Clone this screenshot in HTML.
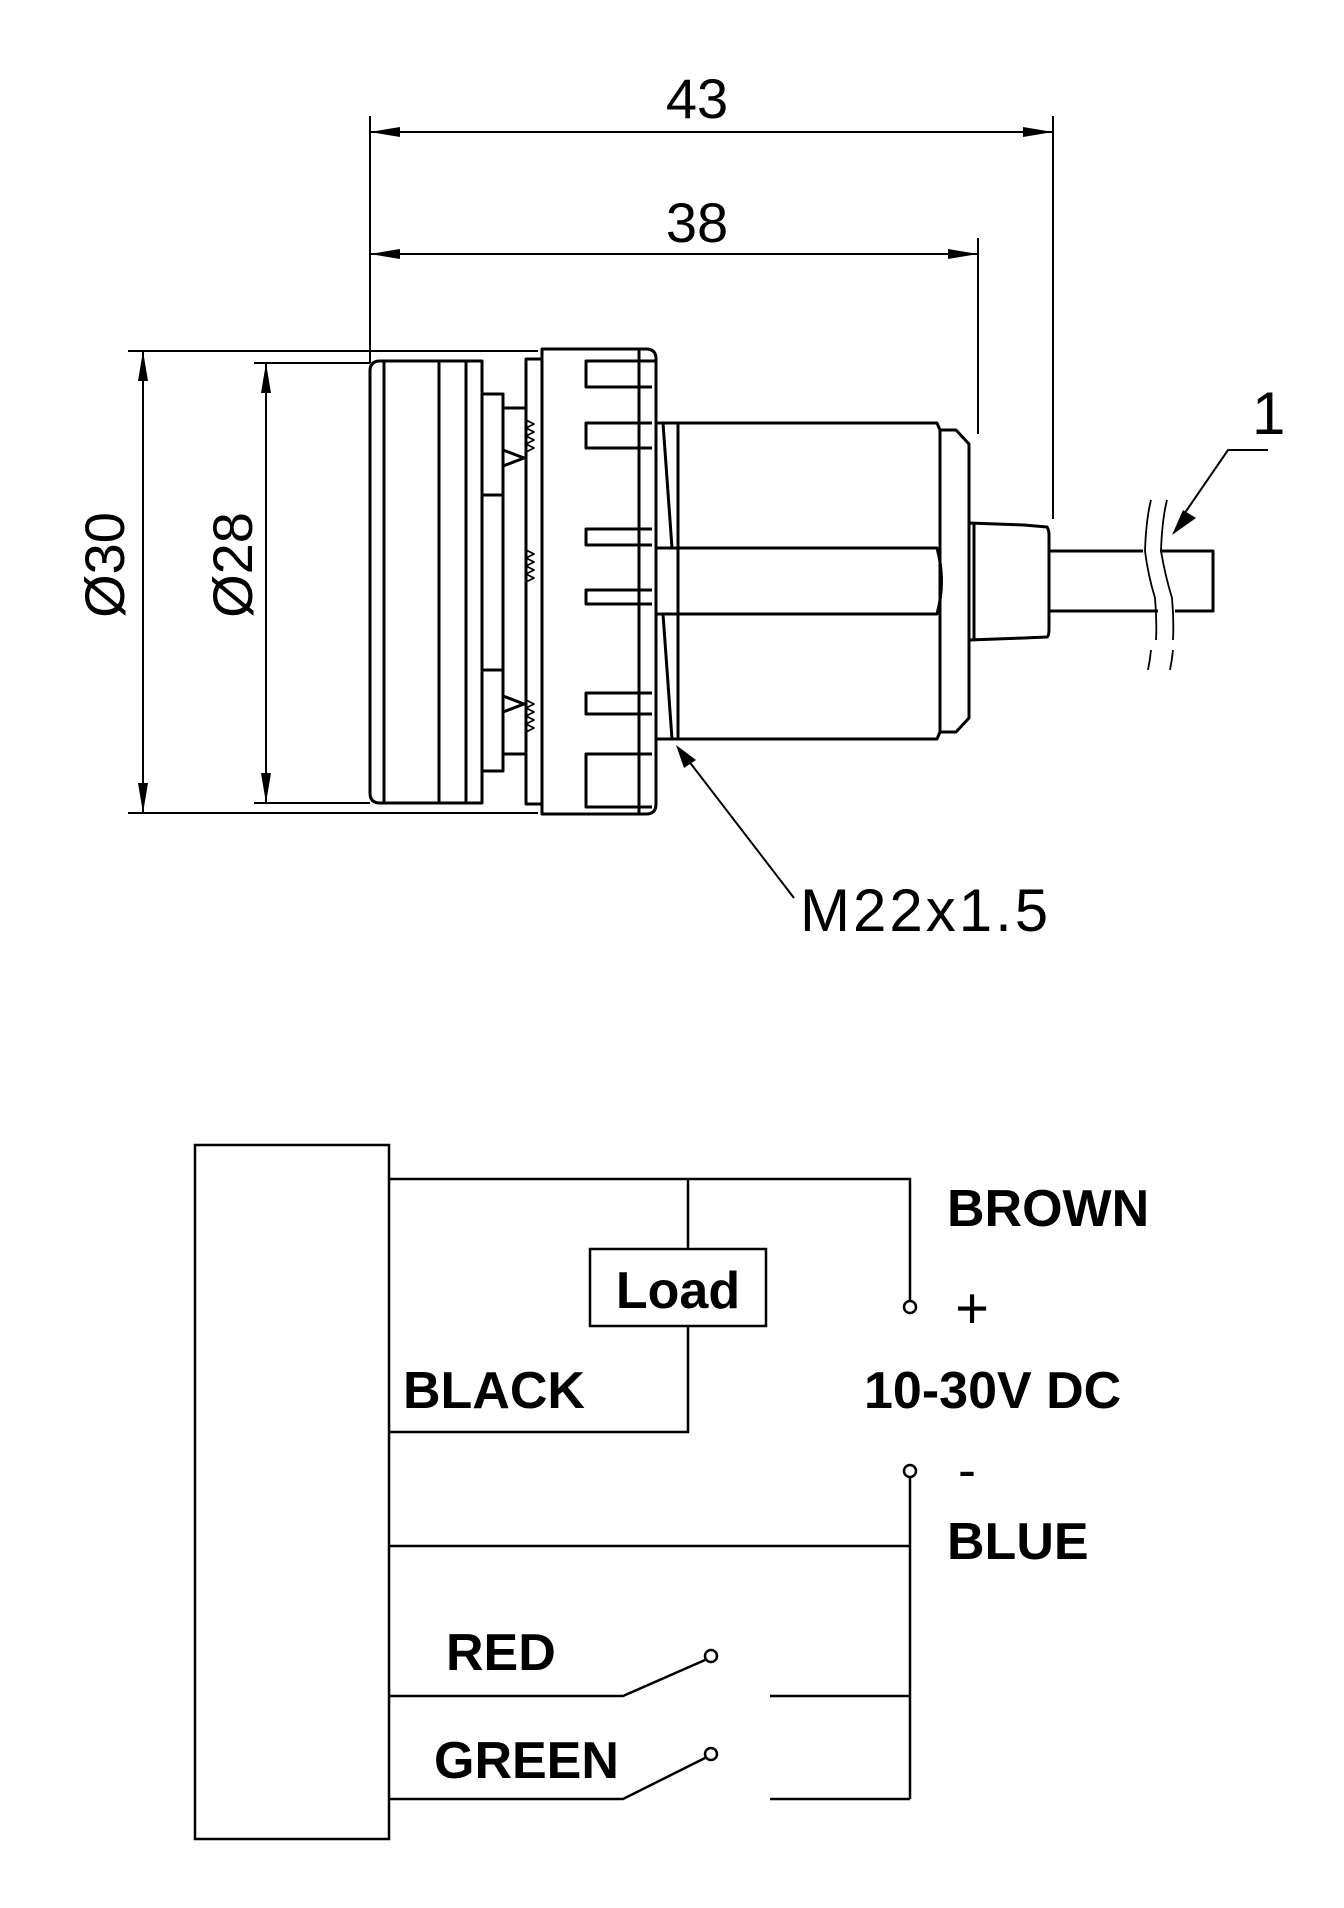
<!DOCTYPE html>
<html><head><meta charset="utf-8"><style>
html,body{margin:0;padding:0;background:#fff}
svg{display:block}
.t{font-family:"Liberation Sans",sans-serif;fill:#000}
.b{font-family:"Liberation Sans",sans-serif;font-weight:bold;fill:#000;font-size:52px}
</style></head><body>
<svg width="1344" height="1908" viewBox="0 0 1344 1908" xmlns="http://www.w3.org/2000/svg">
<g fill="none" stroke="#000" stroke-width="2">
<line x1="370" y1="116" x2="370" y2="363"/>
<line x1="1053" y1="116" x2="1053" y2="519"/>
<line x1="370" y1="132" x2="1053" y2="132"/>
<line x1="978" y1="238" x2="978" y2="434"/>
<line x1="370" y1="254" x2="978" y2="254"/>
<line x1="128" y1="351" x2="538" y2="351"/>
<line x1="128" y1="813" x2="538" y2="813"/>
<line x1="143" y1="351" x2="143" y2="813"/>
<line x1="254" y1="363" x2="370" y2="363"/>
<line x1="254" y1="803" x2="370" y2="803"/>
<line x1="266" y1="363" x2="266" y2="803"/>
<polyline points="1268,450 1228,450 1180,520"/>
<line x1="688" y1="760" x2="794" y2="898"/>
</g>
<g fill="#000">
<polygon points="370,132 400,127 400,137"/>
<polygon points="1053,132 1023,127 1023,137"/>
<polygon points="370,254 400,249 400,259"/>
<polygon points="978,254 948,249 948,259"/>
<polygon points="143,351 138,381 148,381"/>
<polygon points="143,813 138,783 148,783"/>
<polygon points="266,363 261,393 271,393"/>
<polygon points="266,803 261,773 271,773"/>
<polygon points="1172,535 1183,510 1196,518"/>
<polygon points="676,745 684,768 696,760"/>
</g>
<text class="t" x="697" y="118" font-size="56" text-anchor="middle">43</text>
<text class="t" x="697" y="242" font-size="56" text-anchor="middle">38</text>
<text class="t" font-size="56" text-anchor="middle" transform="translate(124,565) rotate(-90)">Ø30</text>
<text class="t" font-size="56" text-anchor="middle" transform="translate(252,565) rotate(-90)">Ø28</text>
<text class="t" x="1252" y="434" font-size="60">1</text>
<text class="t" x="800" y="931" font-size="60" letter-spacing="3">M22x1.5</text>

<g fill="none" stroke="#000" stroke-width="3" stroke-linejoin="round">
<path d="M380,361 H482 V803 H380 Q370,803 370,793 V371 Q370,361 380,361 Z"/>
<line x1="384" y1="361" x2="384" y2="803"/>
<line x1="439" y1="361" x2="439" y2="803"/>
<line x1="466" y1="361" x2="466" y2="803"/>
<rect x="482" y="394" width="21" height="377"/>
<line x1="482" y1="495" x2="503" y2="495"/>
<line x1="482" y1="670" x2="503" y2="670"/>
<rect x="503" y="408" width="23" height="346"/>
<polyline points="503,450 524,458 503,466"/>
<polyline points="503,696 524,704 503,712"/>
<rect x="526" y="359" width="16" height="445"/>
<path d="M526,420 l8,4 -8,4 8,4 -8,4 8,4 -8,4 8,4 -8,4 M526,550 l8,4 -8,4 8,4 -8,4 8,4 -8,4 8,4 -8,4 M526,700 l8,4 -8,4 8,4 -8,4 8,4 -8,4 8,4 -8,4" stroke-width="1.8"/>
<path d="M542,349 H646 Q656,349 656,359 V804 Q656,814 646,814 H542 Z"/>
<line x1="639" y1="349" x2="639" y2="814"/>
<path d="M656,361 L586,361 V387 H652"/>
<path d="M652,423 H586 V448 L652,448"/>
<path d="M652,529 H586 V545 L652,545"/>
<path d="M652,590 H586 V604 L652,604"/>
<path d="M652,693 H586 V714 L652,714"/>
<path d="M652,754 H586 V807 L652,807"/>
<rect x="656" y="423" width="22" height="316"/>
<line x1="663" y1="423" x2="672" y2="548"/>
<line x1="663" y1="614" x2="672" y2="739"/>
<path d="M678,423 H937 L940,430 V732 L937,739 H678"/>
<path d="M656,548 H937 Q946,581 937,614 H656"/>
<path d="M940,430 H956 L969,444 V718 L956,732 H940"/>
<path d="M969,523 L1024,525 L1047,527 Q1049,530 1049,535 V629 Q1049,636 1047,637 L1024,638 L969,640 Z"/>
<line x1="974" y1="523" x2="974" y2="640"/>
<path d="M1049,551 H1143 M1160,551 H1213 V611 H1175 M1158,611 H1049"/>
</g>
<g fill="none" stroke="#000" stroke-width="1.8">
<path d="M1151,500 Q1146,520 1145,551 Q1148,575 1155,598 Q1157,620 1156,640 M1151,650 Q1150,660 1148,670"/>
<path d="M1167,500 Q1162,520 1161,551 Q1165,575 1172,598 Q1174,620 1173,640 M1173,650 Q1172,660 1170,670"/>
</g>

<g fill="none" stroke="#000" stroke-width="2.5">
<rect x="195" y="1145" width="194" height="694"/>
<polyline points="389,1179 910,1179 910,1300"/>
<line x1="688" y1="1179" x2="688" y2="1249"/>
<rect x="590" y="1249" width="176" height="77"/>
<polyline points="688,1326 688,1432 389,1432"/>
<circle cx="910" cy="1307" r="6"/>
<circle cx="910" cy="1471" r="6"/>
<polyline points="910,1477 910,1799"/>
<line x1="389" y1="1546" x2="910" y2="1546"/>
<polyline points="389,1696 623,1696 705,1660"/>
<circle cx="711" cy="1656" r="6"/>
<line x1="770" y1="1696" x2="910" y2="1696"/>
<polyline points="389,1799 623,1799 705,1758"/>
<circle cx="711" cy="1754" r="6"/>
<line x1="770" y1="1799" x2="910" y2="1799"/>
</g>
<text class="b" x="678" y="1308" text-anchor="middle">Load</text>
<text class="b" x="403" y="1408">BLACK</text>
<text class="b" x="947" y="1226">BROWN</text>
<text class="t" x="972" y="1328" font-size="58" text-anchor="middle">+</text>
<text class="b" x="864" y="1408">10-30V DC</text>
<text class="t" x="958" y="1488" font-size="54">-</text>
<text class="b" x="947" y="1559">BLUE</text>
<text class="b" x="446" y="1670">RED</text>
<text class="b" x="434" y="1778">GREEN</text>
</svg>
</body></html>
